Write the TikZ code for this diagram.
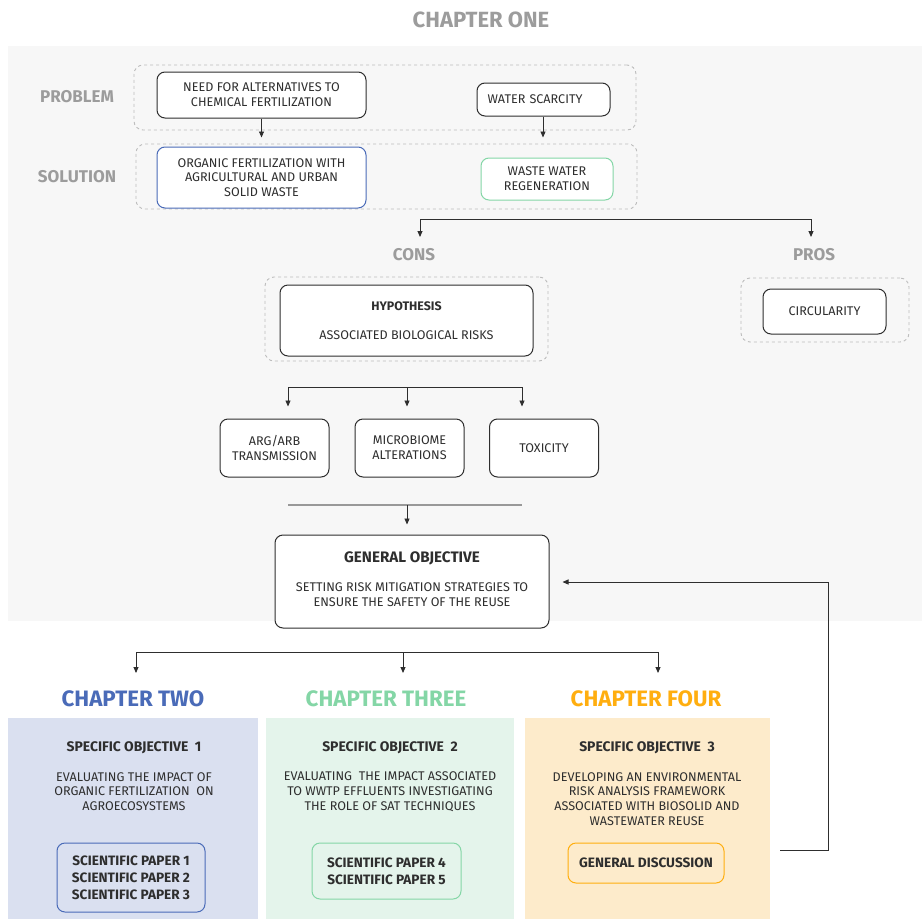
\documentclass[tikz,border=0pt]{standalone}
\usepackage{fontspec}
\setmainfont{Fira Sans}
\usetikzlibrary{arrows.meta}
\definecolor{inkc}{HTML}{2E2E2E}
\definecolor{labelgray}{HTML}{9C9C9C}
\definecolor{dashgray}{HTML}{BDBDBD}
\definecolor{panelgray}{HTML}{F7F7F7}
\definecolor{blueC}{HTML}{4A6BB8}
\definecolor{greenC}{HTML}{84D6A6}
\definecolor{orangeC}{HTML}{FFAE0F}
\definecolor{blueP}{HTML}{DAE0F0}
\definecolor{greenP}{HTML}{E4F4EB}
\definecolor{orangeP}{HTML}{FDEBCB}
\tikzset{
  every node/.style={text=inkc, inner sep=0pt},
  body/.style={font=\fontsize{12.6}{14.8}\selectfont, align=center},
  boldbody/.style={font=\bfseries\fontsize{12.4}{16}\selectfont, align=center},
  paperfont/.style={font=\bfseries\fontsize{13.6}{17}\selectfont, align=center},
  rbox/.style={draw=inkc, line width=1pt, rounded corners=8pt, fill=white},
  dashbox/.style={draw=dashgray, dashed, line width=0.9pt, rounded corners=9pt},
  sidelabel/.style={font=\bfseries\fontsize{17}{20}\selectfont, text=labelgray},
  chaptitle/.style={font=\bfseries\fontsize{22.3}{26}\selectfont},
  arr/.style={-{Triangle[length=6pt,width=5pt]}, line width=0.9pt, draw=inkc},
  plain/.style={line width=0.9pt, draw=inkc},
  panel/.style={minimum width=#1, minimum height=201pt},
}
\begin{document}
\begin{tikzpicture}[x=1pt,y=-1pt]
\useasboundingbox (0,0) rectangle (922,919);
\fill[white] (0,0) rectangle (922,919);
% chapter one backdrop
\fill[panelgray] (8,46) rectangle (922,621);
\node[chaptitle, text=labelgray, font=\bfseries\fontsize{22}{26}\selectfont] (ch1) at (481,20) {CHAPTER ONE};

% problem / solution rows
\node[sidelabel] (problem) at (77,97) {PROBLEM};
\node[sidelabel] (solution) at (77,177) {SOLUTION};
\node[dashbox, minimum width=502pt, minimum height=65pt] (probgrp) at (385,97.5) {};
\node[dashbox, minimum width=501pt, minimum height=65pt] (solgrp) at (386.5,176.5) {};
\node[rbox, body, minimum width=209pt, minimum height=46pt] (need) at (261.5,95)
  {NEED FOR ALTERNATIVES TO\\CHEMICAL FERTILIZATION};
\node[rbox, body, align=left, text width=112pt, inner xsep=10.5pt, minimum height=33pt] (water) at (543.5,99.5)
  {WATER SCARCITY};
\node[rbox, draw=blueC, body, minimum width=209pt, minimum height=61pt] (organic) at (261.5,177.5)
  {ORGANIC FERTILIZATION WITH\\AGRICULTURAL AND URBAN\\SOLID WASTE};
\node[rbox, draw=greenC, body, minimum width=132pt, minimum height=42pt] (wwr) at (547,179)
  {WASTE WATER\\REGENERATION};
\draw[arr] (need.south) -- ++(0,19);
\draw[arr] (water.south -| 543,0) -- ++(0,21);

% cons / pros split
\coordinate (splitL) at (420,219);
\coordinate (splitR) at (811,219);
\coordinate (consIn) at (420,237);
\coordinate (prosIn) at (811,237);
\draw[arr] (splitL) -- (splitR) -- (prosIn);
\draw[arr] (splitL) -- (consIn);
\node[sidelabel] (cons) at (414,255) {CONS};
\node[sidelabel] (pros) at (814,255) {PROS};

\node[dashbox, minimum width=283pt, minimum height=84pt] (consgrp) at (406.5,319) {};
\node[rbox, minimum width=253pt, minimum height=71pt] (hyp) at (406.5,320.5) {};
\node[boldbody] (hyptitle) at (406.5,306) {HYPOTHESIS};
\node[body] (hyptext) at (406.5,335) {ASSOCIATED BIOLOGICAL RISKS};
\node[dashbox, minimum width=168pt, minimum height=64pt] (prosgrp) at (825,310) {};
\node[rbox, body, minimum width=123pt, minimum height=45pt] (circ) at (824.5,311.5) {CIRCULARITY};

% risk branches
\coordinate (tL) at (288,387);
\coordinate (tM) at (407,387);
\coordinate (tR) at (522,387);
\node[rbox, body, minimum width=109pt, minimum height=58pt] (arg) at (274.5,448)
  {ARG/ARB\\TRANSMISSION};
\node[rbox, body, minimum width=109pt, minimum height=58pt] (micro) at (409.5,448)
  {MICROBIOME\\ALTERATIONS};
\node[rbox, body, minimum width=109pt, minimum height=58pt] (tox) at (544,448)
  {TOXICITY};
\draw[plain] (tL) -- (tR);
\draw[arr, shorten >=12pt] (tL) -- (tL |- arg.north);
\draw[arr, shorten >=12pt] (tM) -- (tM |- micro.north);
\draw[arr, shorten >=12pt] (tR) -- (tR |- tox.north);

% general objective
\coordinate (jL) at (288,505);
\coordinate (jR) at (522,505);
\coordinate (jM) at (407,505);
\draw[line width=1.2pt, draw=gray!80] (jL) -- (jR);
\node[rbox, minimum width=274pt, minimum height=93pt] (genobj) at (412,581.5) {};
\node[boldbody, font=\bfseries\fontsize{15.2}{18}\selectfont] (gotitle) at (412,558) {GENERAL OBJECTIVE};
\node[body] (gotext) at (412,594.5) {SETTING RISK MITIGATION STRATEGIES TO\\ENSURE THE SAFETY OF THE REUSE};
\draw[arr, shorten >=10pt] (jM) -- (jM |- genobj.north);

% chapter distribution
\coordinate (dL) at (136,652);
\coordinate (dM) at (403,652);
\coordinate (dR) at (658,652);
\coordinate (dLin) at (136,673);
\coordinate (dMin) at (403,673);
\coordinate (dRin) at (658,673);
\draw[plain] (dL) -- (dR);
\draw[arr] (dL) -- (dLin);
\draw[arr] (dM) -- (dMin);
\draw[arr] (dR) -- (dRin);

\node[chaptitle, text=blueC] (ch2) at (133,699) {CHAPTER TWO};
\node[chaptitle, text=greenC] (ch3) at (386,699) {CHAPTER THREE};
\node[chaptitle, text=orangeC] (ch4) at (646,699) {CHAPTER FOUR};

\node[fill=blueP, panel=250pt] (p2) at (133,818.5) {};
\node[fill=greenP, panel=248pt] (p3) at (390,818.5) {};
\node[fill=orangeP, panel=245pt] (p4) at (647.5,818.5) {};

\node[boldbody, font=\bfseries\fontsize{13.9}{16}\selectfont] (so1) at (134,748) {SPECIFIC OBJECTIVE\ \ 1};
\node[boldbody, font=\bfseries\fontsize{13.9}{16}\selectfont] (so2) at (390,748) {SPECIFIC OBJECTIVE\ \ 2};
\node[boldbody, font=\bfseries\fontsize{13.9}{16}\selectfont] (so3) at (647,748) {SPECIFIC OBJECTIVE\ \ 3};
\node[body] (t1) at (134,791.5) {EVALUATING THE IMPACT OF\\ORGANIC FERTILIZATION\ \ ON\\AGROECOSYSTEMS};
\node[body] (t2) at (390,791.5) {EVALUATING\ \ THE IMPACT ASSOCIATED\\TO WWTP EFFLUENTS INVESTIGATING\\THE ROLE OF SAT TECHNIQUES};
\node[body] (t3) at (647,799) {DEVELOPING AN ENVIRONMENTAL\\RISK ANALYSIS FRAMEWORK\\ASSOCIATED WITH BIOSOLID AND\\WASTEWATER REUSE};

\node[rbox, draw=blueC, fill=none, paperfont,
  minimum width=148pt, minimum height=69pt] (pap1) at (131,877.5)
  {SCIENTIFIC PAPER 1\\SCIENTIFIC PAPER 2\\SCIENTIFIC PAPER 3};
\node[rbox, draw=greenC, fill=none, paperfont,
  minimum width=149pt, minimum height=56pt] (pap2) at (386.5,871)
  {SCIENTIFIC PAPER 4\\SCIENTIFIC PAPER 5};
\node[rbox, draw=orangeC, fill=none, paperfont,
  minimum width=156pt, minimum height=40pt] (pap3) at (646,863)
  {GENERAL DISCUSSION};

% feedback to the general objective
\coordinate (fbStart) at (780,850);
\coordinate (fbCorner) at (828,850);
\draw[arr, shorten >=13pt] (fbStart) -- (fbCorner) |- (genobj.east |- 0,582);
\end{tikzpicture}
\end{document}
